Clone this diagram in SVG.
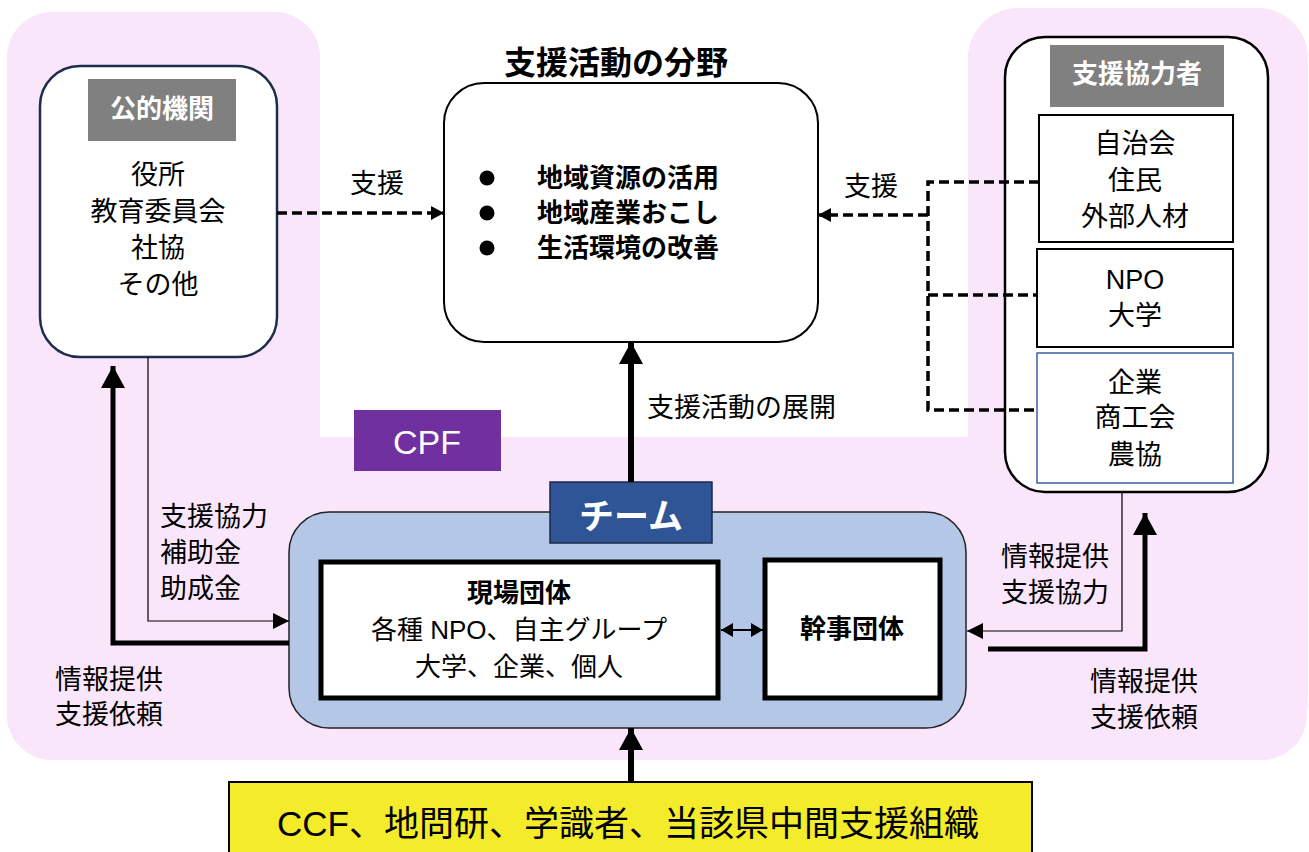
<svg xmlns="http://www.w3.org/2000/svg" width="1309" height="852" viewBox="0 0 1309 852">
<style>
text{font-family:"Liberation Sans","Noto Sans CJK JP",sans-serif;fill:#000;dominant-baseline:central}
.t{font-size:27px;text-anchor:middle}
.tl{font-size:27px}
.b{font-weight:bold}
.w{fill:#fff}
.dash{fill:none;stroke:#000;stroke-width:3.5;stroke-dasharray:10 5}
.thin{fill:none;stroke:#000;stroke-width:1.2}
.thick{fill:none;stroke:#000;stroke-width:6}
.pink{fill:#FAE6FA}
</style>
<defs>
<marker id="ah" markerUnits="userSpaceOnUse" markerWidth="14" markerHeight="14" refX="13" refY="7" orient="auto"><path d="M0,0 L13,7 L0,14 z" fill="#000"/></marker>
<marker id="ahs" markerUnits="userSpaceOnUse" markerWidth="16" markerHeight="16" refX="16" refY="8" orient="auto"><path d="M0,0 L16,8 L0,16 z" fill="#000"/></marker>
<marker id="ahd" markerUnits="userSpaceOnUse" markerWidth="12" markerHeight="14" refX="12" refY="7" orient="auto-start-reverse"><path d="M0,0 L12,7 L0,14 z" fill="#000"/></marker>
<marker id="ahb" markerUnits="userSpaceOnUse" markerWidth="24" markerHeight="24" refX="22" refY="12" orient="auto"><path d="M0,0 L22,12 L0,24 z" fill="#000"/></marker>
</defs>
<g id="background">
<rect class="pink" x="7" y="12" width="313" height="748" rx="45"/>
<rect class="pink" x="968" y="8" width="340" height="744" rx="50"/>
<rect class="pink" x="7" y="437" width="1300" height="323" rx="45"/>
<rect class="pink" x="300" y="437" width="700" height="60"/>
</g>
<g id="public">
<rect x="40" y="66" width="237" height="291" rx="40" fill="#fff" stroke="#1F2D4D" stroke-width="2.5"/>
<rect x="88" y="79" width="148" height="62" fill="#808080"/>
<text class="t b w" x="162" y="109" style="font-size:26px">公的機関</text>
<text class="t" x="158" y="175">役所</text>
<text class="t" x="158" y="212">教育委員会</text>
<text class="t" x="158" y="248">社協</text>
<text class="t" x="158" y="285">その他</text>
</g>
<g id="fields">
<text class="t b" x="616" y="63" style="font-size:32px">支援活動の分野</text>
<rect x="444" y="83" width="374" height="259" rx="40" fill="#fff" stroke="#000" stroke-width="2"/>
<circle cx="487" cy="178" r="7.5"/>
<circle cx="487" cy="213" r="7.5"/>
<circle cx="487" cy="248" r="7.5"/>
<text class="tl b" x="537" y="178" style="font-size:26px">地域資源の活用</text>
<text class="tl b" x="537" y="213" style="font-size:26px">地域産業おこし</text>
<text class="tl b" x="537" y="248" style="font-size:26px">生活環境の改善</text>
</g>
<g id="supporters">
<rect x="1005" y="37" width="263" height="455" rx="40" fill="#fff" stroke="#000" stroke-width="2.5"/>
<rect x="1050" y="45" width="174" height="62" fill="#808080"/>
<text class="t b w" x="1137" y="74" style="font-size:26px">支援協力者</text>
<rect x="1039" y="115" width="194" height="127" fill="#fff" stroke="#000" stroke-width="2"/>
<text class="t" x="1135" y="144">自治会</text>
<text class="t" x="1135" y="181">住民</text>
<text class="t" x="1135" y="217">外部人材</text>
<rect x="1037" y="249" width="196" height="98" fill="#fff" stroke="#000" stroke-width="2"/>
<text class="t" x="1135" y="280">NPO</text>
<text class="t" x="1135" y="316">大学</text>
<rect x="1037" y="353" width="196" height="130" fill="#fff" stroke="#3F5F9F" stroke-width="1.5"/>
<text class="t" x="1135" y="383">企業</text>
<text class="t" x="1135" y="418">商工会</text>
<text class="t" x="1135" y="455">農協</text>
</g>
<g id="cpf">
<rect x="354" y="410" width="147" height="61" fill="#7030A0"/>
<text class="w" x="427" y="442" text-anchor="middle" style="font-size:34px">CPF</text>
</g>
<g id="team">
<rect x="289" y="512" width="677" height="216" rx="40" fill="#B4C7E7" stroke="#222" stroke-width="1.5"/>
<rect x="550" y="482" width="162" height="61" fill="#2F5597" stroke="#1A2A4A" stroke-width="1.5"/>
<text class="t b w" x="631" y="516" style="font-size:35px">チーム</text>
</g>
<g id="field-groups">
<rect x="321" y="562" width="397" height="136" fill="#fff" stroke="#000" stroke-width="5"/>
<text class="t b" x="519" y="593" style="font-size:26px">現場団体</text>
<text class="t" x="519" y="630" style="font-size:26px">各種 NPO、自主グループ</text>
<text class="t" x="519" y="667" style="font-size:26px">大学、企業、個人</text>
</g>
<g id="lead-groups">
<rect x="765" y="560" width="175" height="138" fill="#fff" stroke="#000" stroke-width="5"/>
<text class="t b" x="852" y="629" style="font-size:26px">幹事団体</text>
</g>
<g id="external">
<rect x="229" y="782" width="803" height="80" fill="#F4EC2A" stroke="#000" stroke-width="2"/>
<text class="t" x="628" y="823" style="font-size:35px">CCF、地問研、学識者、当該県中間支援組織</text>
</g>
<g id="connectors">
<path class="dash" d="M277,213 H444" marker-end="url(#ah)"/>
<path class="dash" d="M1039,182 H928 V410 H1037 M928,295 H1037"/>
<path class="dash" d="M928,215 H818" marker-end="url(#ah)"/>
<path class="thick" d="M631,482 V342" marker-end="url(#ahb)"/>
<path class="thick" d="M631,782 V728" marker-end="url(#ahb)"/>
<path class="thick" style="stroke-width:5" d="M289,643 H113 V366" marker-end="url(#ahb)"/>
<path class="thin" d="M148,357 V621 H289" marker-end="url(#ahs)"/>
<path class="thin" d="M1122,492 V631 H967" marker-end="url(#ahs)"/>
<path class="thick" style="stroke-width:5" d="M988,649 H1145 V513" marker-end="url(#ahb)"/>
<path fill="none" stroke="#000" stroke-width="2" d="M721,630 H763" marker-start="url(#ahd)" marker-end="url(#ahd)"/>
</g>
<g id="labels">
<text class="t" x="377" y="184">支援</text>
<text class="t" x="871" y="187">支援</text>
<text class="tl" x="647" y="408">支援活動の展開</text>
<text class="tl" x="160" y="517">支援協力</text>
<text class="tl" x="160" y="553">補助金</text>
<text class="tl" x="160" y="589">助成金</text>
<text class="tl" x="55" y="680">情報提供</text>
<text class="tl" x="55" y="715">支援依頼</text>
<text class="tl" x="1001" y="557">情報提供</text>
<text class="tl" x="1001" y="593">支援協力</text>
<text class="tl" x="1090" y="682">情報提供</text>
<text class="tl" x="1090" y="718">支援依頼</text>
</g>
</svg>
